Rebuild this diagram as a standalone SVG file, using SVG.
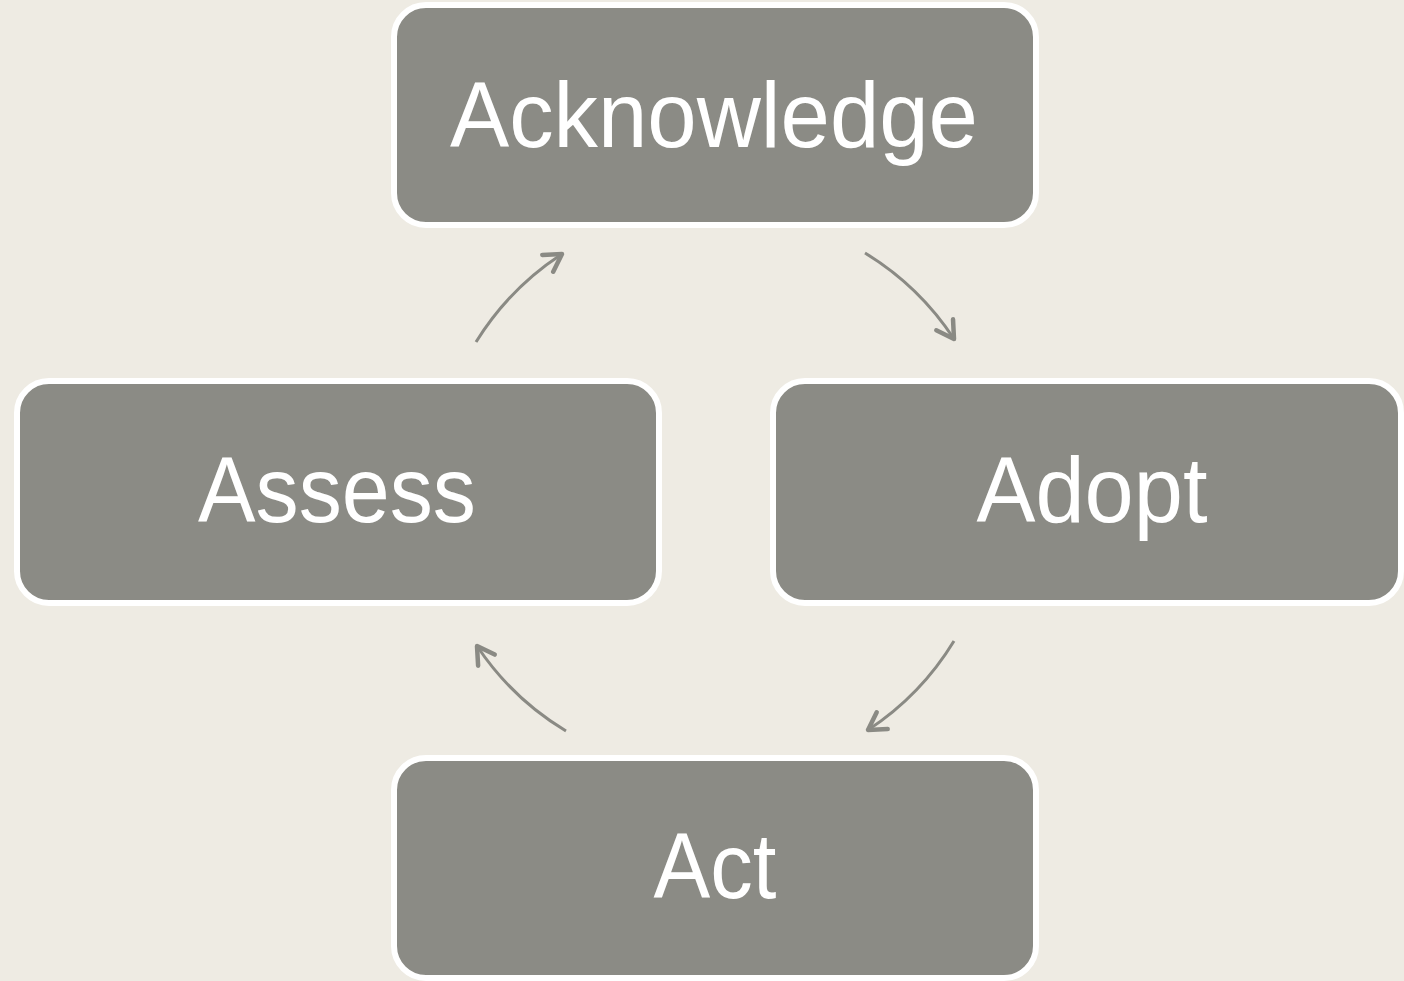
<svg xmlns="http://www.w3.org/2000/svg" width="1404" height="981" viewBox="0 0 1404 981">
  <style>
    .box { fill: #8B8B85; stroke: #FFFFFF; stroke-width: 6; }
    .label { font-family: "Liberation Sans", Arial, sans-serif; font-size: 92px; fill: #FFFFFF; text-anchor: middle; }
    .link { fill: none; stroke: #8A8A84; stroke-width: 3; marker-end: url(#head); }
  </style>
  <defs>
    <marker id="head" markerUnits="userSpaceOnUse" markerWidth="40" markerHeight="40" viewBox="-25 -20 40 40" refX="0" refY="0" orient="auto">
      <path d="M -17 -10 L 0 0 L -17 10" fill="none" stroke="#8A8A84" stroke-width="4.5" stroke-linecap="round" stroke-linejoin="round"/>
    </marker>
  </defs>
  <rect width="1404" height="981" fill="#EEEBE3"/>

  <g id="connectors">
    <path class="link" d="M 476 342 A 282 282 0 0 1 562 254"/>
    <path class="link" d="M 865 253 A 282 282 0 0 1 954 339"/>
    <path class="link" d="M 954 641 A 282 282 0 0 1 868 730"/>
    <path class="link" d="M 566 731 A 282 282 0 0 1 477 646"/>
  </g>

  <g id="acknowledge">
    <rect class="box" x="394" y="5" width="642" height="220" rx="32"/>
    <text class="label" x="714" y="147" textLength="528" lengthAdjust="spacingAndGlyphs">Acknowledge</text>
  </g>
  <g id="assess">
    <rect class="box" x="17" y="381" width="642" height="222" rx="32"/>
    <text class="label" x="337" y="522" textLength="278" lengthAdjust="spacingAndGlyphs">Assess</text>
  </g>
  <g id="adopt">
    <rect class="box" x="773" y="381" width="628" height="222" rx="32"/>
    <text class="label" x="1092" y="522" textLength="231" lengthAdjust="spacingAndGlyphs">Adopt</text>
  </g>
  <g id="act">
    <rect class="box" x="394" y="758" width="642" height="220" rx="32"/>
    <text class="label" x="715" y="898" textLength="123" lengthAdjust="spacingAndGlyphs">Act</text>
  </g>
</svg>
